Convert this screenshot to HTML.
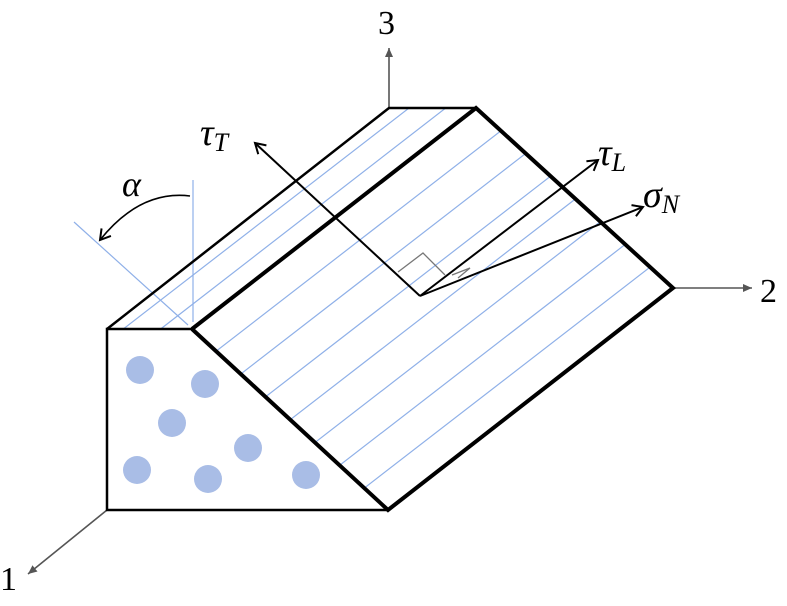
<!DOCTYPE html>
<html><head><style>html,body{margin:0;background:#fff;overflow:hidden;width:787px;height:606px}svg{display:block}</style></head><body>
<svg width="787" height="606" viewBox="0 0 787 606" xmlns="http://www.w3.org/2000/svg">
<defs>
<clipPath id="cf"><polygon points="107,329 389,108 476,108 673,288 388,510 192,329"/></clipPath>
<marker id="ag" markerWidth="10" markerHeight="10" refX="9" refY="5" orient="auto" markerUnits="userSpaceOnUse"><path d="M0,1 L9,5 L0,9 z" fill="#555"/></marker>
<marker id="ab" markerWidth="14" markerHeight="14" refX="11" refY="7" orient="auto" markerUnits="userSpaceOnUse"><path d="M1,1 L11,7 L1,13" fill="none" stroke="#000" stroke-width="2"/></marker>
</defs>
<g clip-path="url(#cf)" stroke="#8fb0e8" stroke-width="1.2">
<line x1="100" y1="347" x2="550" y2="-1"/>
<line x1="100" y1="376" x2="585" y2="0"/>
<line x1="100" y1="441" x2="670" y2="0"/>
<line x1="100" y1="483" x2="680" y2="34"/>
<line x1="100" y1="525" x2="680" y2="76"/>
<line x1="100" y1="567" x2="680" y2="118"/>
<line x1="140" y1="578" x2="680" y2="160"/>
<line x1="194" y1="578" x2="680" y2="202"/>
<line x1="248" y1="578" x2="680" y2="244"/>
</g>
<g stroke="#8fb0e8" stroke-width="1.2">
<line x1="193" y1="180" x2="193" y2="322"/>
<line x1="74" y1="222" x2="188" y2="325"/>
</g>
<g fill="#a9bde6">
<circle cx="140" cy="370" r="14"/><circle cx="205" cy="384" r="14"/><circle cx="172" cy="423" r="14"/>
<circle cx="248" cy="448" r="14"/><circle cx="137" cy="470" r="14"/><circle cx="208" cy="479" r="14"/><circle cx="306" cy="475" r="14"/>
</g>
<g stroke="#555" stroke-width="1.6" fill="none">
<line x1="389" y1="108" x2="389" y2="48" marker-end="url(#ag)"/>
<line x1="673" y1="288" x2="752" y2="288" marker-end="url(#ag)"/>
<line x1="107" y1="510" x2="28" y2="574" marker-end="url(#ag)"/>
</g>
<g stroke="#000" fill="none" stroke-linejoin="miter">
<polyline points="192,329 107,329 107,510 388,510" stroke-width="2.5"/>
<polyline points="107,329 389,108 476,108" stroke-width="2.5"/>
<polyline points="192,329 476,108 673,288 388,510 192,329" stroke-width="4"/>
</g>
<g stroke="#777" stroke-width="1.3" fill="none">
<polyline points="398,272 423,253 445,275"/>
<polyline points="452,275 470,268 458,278"/>
</g>
<g stroke="#000" stroke-width="2" fill="none">
<line x1="420" y1="296" x2="255" y2="143" marker-end="url(#ab)"/>
<line x1="420" y1="296" x2="598" y2="160" marker-end="url(#ab)"/>
<line x1="420" y1="296" x2="643" y2="207" marker-end="url(#ab)"/>
<path d="M190,196 Q140,190 100,240" stroke-width="1.6" marker-end="url(#ab)"/>
</g>
<g font-family="Liberation Serif, serif" font-size="34" fill="#000">
<text x="378" y="34">3</text>
<text x="760" y="302">2</text>
<text x="0" y="590">1</text>
<text x="122" y="196" font-style="italic" font-size="36">α</text>
<text x="200" y="145" font-style="italic" font-size="38">τ<tspan font-size="26" dy="6">T</tspan></text>
<text x="598" y="165" font-style="italic" font-size="38">τ<tspan font-size="26" dy="6">L</tspan></text>
<text x="643" y="207" font-style="italic" font-size="38">σ<tspan font-size="26" dy="6">N</tspan></text>
</g>
</svg>
</body></html>
